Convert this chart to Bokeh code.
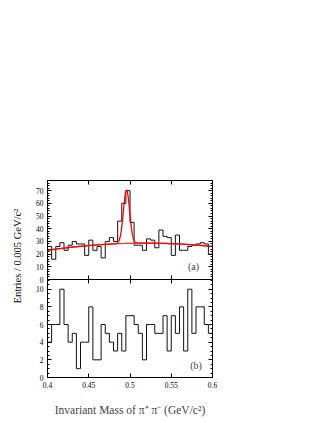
import numpy as np
from bokeh.plotting import figure
from bokeh.layouts import column
from bokeh.models import Range1d, LinearAxis, FixedTicker, SingleIntervalTicker, NumeralTickFormatter, Label, Title
from bokeh.embed import file_html
from bokeh.resources import INLINE

# ---------------- data ----------------
bin_lo = 0.4
bin_width = 0.005
counts_a = [26, 16, 26, 29, 23, 27, 30, 28, 28, 19,
            31, 23, 26, 17, 30, 33, 30, 46, 60, 70,
            45, 27, 27, 23, 32, 31, 25, 39, 34, 33,
            19, 35, 23, 23, 26, 27, 28, 29, 28, 20]
counts_b = [4, 6, 6, 10, 6, 4, 5, 1, 4, 4,
            8, 2, 2, 6, 5, 4, 3, 5, 3, 7,
            7, 6, 5, 2, 6, 6, 5, 5, 7, 3,
            7, 5, 8, 3, 10, 5, 8, 8, 6, 5]
# fit: gaussian + quadratic background (in t = (m - 0.5)/0.1)
fit_amp = 42.0
fit_mean = 0.4958
fit_sigma = 0.0038
bkg_c0, bkg_c1, bkg_c2 = 28.5, 1.5, -4.0
x_ticks = [0.4, 0.45, 0.5, 0.55, 0.6]

FONT = "Liberation Serif"

edges = bin_lo + bin_width * np.arange(len(counts_a) + 1)
step_a = list(counts_a) + [counts_a[-1]]
step_b = list(counts_b) + [counts_b[-1]]
xf = np.linspace(edges[0], edges[-1], 600)
tt = (xf - 0.5) / 0.1
bkg = bkg_c0 + bkg_c1 * tt + bkg_c2 * tt ** 2
fit = bkg + fit_amp * np.exp(-0.5 * ((xf - fit_mean) / fit_sigma) ** 2)

LEFT = 46
RIGHT = 10
W = LEFT + 166 + RIGHT
P1_TOP, P1_FRAME, P1_BOTTOM = 180, 99, 30
P2_TOP, P2_FRAME, P2_BOTTOM = 6, 98, 44


def style_axis(ax, labels=True):
    ax.major_tick_in = 4
    ax.major_tick_out = 0
    ax.minor_tick_in = 2
    ax.minor_tick_out = 0
    ax.axis_line_color = "black"
    ax.major_tick_line_color = "black"
    ax.minor_tick_line_color = "black"
    ax.major_label_text_font = FONT
    ax.major_label_text_font_size = "7.5px"
    ax.major_label_text_color = "black"
    ax.major_label_standoff = 4
    if not labels:
        ax.major_label_text_font_size = "1px"
        ax.major_label_text_color = None
        ax.major_label_text_alpha = 0
        ax.major_label_standoff = 0


def make_fig(height, yr, top, bottom):
    p = figure(width=W, height=height, x_range=Range1d(0.4, 0.6), y_range=yr,
               output_backend="svg", toolbar_location=None,
               min_border_left=LEFT, min_border_right=RIGHT,
               min_border_top=top, min_border_bottom=bottom)
    p.grid.visible = False
    p.outline_line_color = "black"
    p.outline_line_width = 1
    p.background_fill_color = "white"
    p.border_fill_alpha = 0
    return p


# ---------------- top panel (a) ----------------
p1 = make_fig(P1_TOP + P1_FRAME + P1_BOTTOM, Range1d(0, 78), P1_TOP, P1_BOTTOM)
p1.xaxis.ticker = FixedTicker(ticks=x_ticks, minor_ticks=[])
style_axis(p1.xaxis[0], labels=False)
p1.yaxis.ticker = SingleIntervalTicker(interval=10, num_minor_ticks=5)
style_axis(p1.yaxis[0])
ax = LinearAxis(ticker=FixedTicker(ticks=x_ticks, minor_ticks=[]))
style_axis(ax, labels=False)
p1.add_layout(ax, "above")
ay = LinearAxis(ticker=SingleIntervalTicker(interval=10, num_minor_ticks=5))
style_axis(ay, labels=False)
p1.add_layout(ay, "right")

# y-axis title, starting below the top panel so that it spans both panels
ytitle = Title(text="Entries / 0.005 GeV/c\u00b2", align="left", offset=-24,
               text_font=FONT, text_font_size="10.5px", text_font_style="normal",
               text_color="black", standoff=19)
p1.add_layout(ytitle, "left")

p1.step(edges, step_a, mode="after", line_color="#111111", line_width=1)
p1.line(xf, bkg, line_color="#ff3030", line_width=1.2)
p1.line(xf, fit, line_color="#ff0000", line_width=1.3)
p1.add_layout(Label(x=0.577, y=10, text="(a)", text_font=FONT, text_font_size="10px",
                    text_align="center", text_baseline="middle"))

# ---------------- bottom panel (b) ----------------
p2 = make_fig(P2_TOP + P2_FRAME + P2_BOTTOM, Range1d(0, 11.1), P2_TOP, P2_BOTTOM)
p2.margin = (-(P1_BOTTOM + P2_TOP), 0, 0, 0)
p2.xaxis.ticker = FixedTicker(ticks=x_ticks, minor_ticks=[])
p2.xaxis.formatter = NumeralTickFormatter(format="0.0[0]")
style_axis(p2.xaxis[0])
p2.xaxis.axis_label = "Invariant Mass of \u03c0\u207a \u03c0\u207b (GeV/c\u00b2)"
p2.xaxis.axis_label_text_font = FONT
p2.xaxis.axis_label_text_font_style = "normal"
p2.xaxis.axis_label_text_font_size = "11.5px"
p2.xaxis.axis_label_standoff = 13
p2.yaxis.ticker = SingleIntervalTicker(interval=2, num_minor_ticks=4)
style_axis(p2.yaxis[0])
ax2 = LinearAxis(ticker=FixedTicker(ticks=x_ticks, minor_ticks=[]))
style_axis(ax2, labels=False)
p2.add_layout(ax2, "above")
ay2 = LinearAxis(ticker=SingleIntervalTicker(interval=2, num_minor_ticks=4))
style_axis(ay2, labels=False)
p2.add_layout(ay2, "right")

p2.step(edges, step_b, mode="after", line_color="#111111", line_width=1)
p2.add_layout(Label(x=0.58, y=1.4, text="(b)", text_font=FONT, text_font_size="10px",
                    text_align="center", text_baseline="middle"))

layout = column(p1, p2, spacing=0)
open("out.html", "w").write(file_html(layout, INLINE))
